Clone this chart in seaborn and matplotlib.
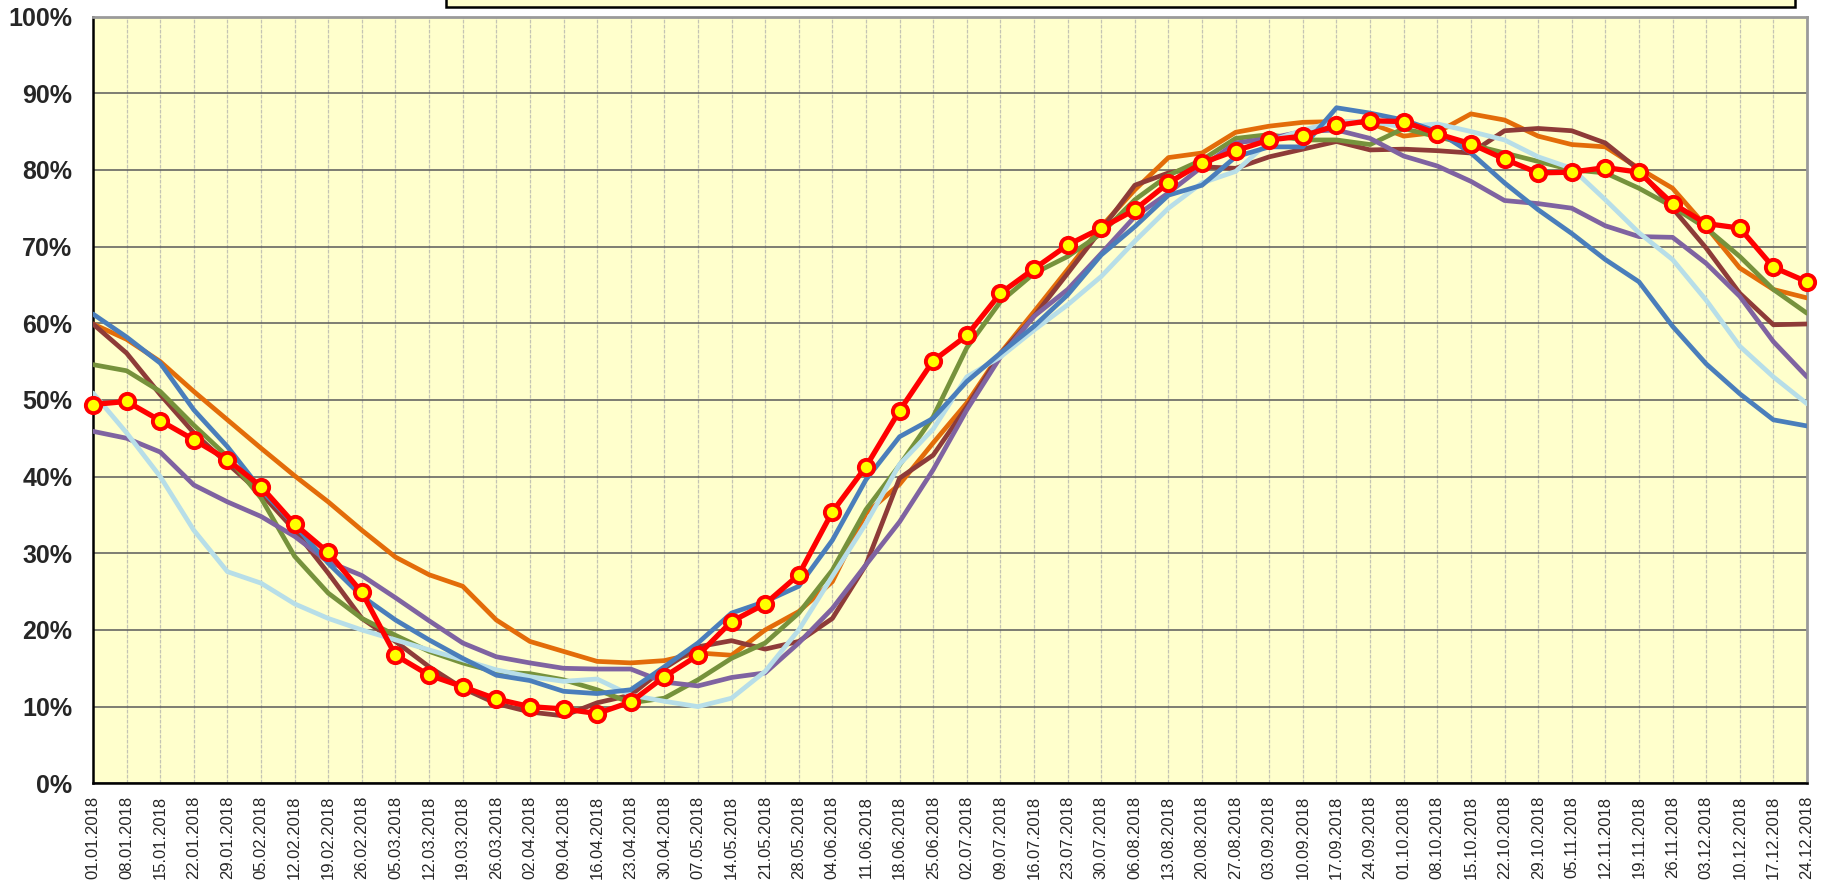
import numpy as np
import pandas as pd
import matplotlib
matplotlib.use("Agg")
import matplotlib.pyplot as plt
import matplotlib.ticker as mticker
from matplotlib.patches import Rectangle
import seaborn as sns

# weekly dates (Mondays of 2018)
dates = pd.date_range("2018-01-01", periods=52, freq="7D").strftime("%d.%m.%Y").tolist()

# values in %
s_blue = [61.2, 58.2, 54.8, 48.7, 43.9, 38.3, 33.7, 28.7, 24.4, 21.3,
          18.7, 16.3, 14.1, 13.4, 12.0, 11.7, 12.2, 15.2, 18.3, 22.2,
          23.7, 25.7, 31.7, 39.6, 45.2, 47.6, 52.4, 56.1, 59.6, 63.7,
          68.9, 72.6, 76.7, 78.0, 81.7, 83.0, 83.0, 88.1, 87.4, 86.5,
          85.0, 82.2, 78.3, 74.8, 71.7, 68.3, 65.4, 59.6, 54.7, 50.8,
          47.4, 46.6]
s_orange = [59.9, 57.9, 55.0, 51.1, 47.4, 43.7, 40.1, 36.7, 33.0, 29.5,
            27.2, 25.7, 21.3, 18.5, 17.2, 15.9, 15.7, 16.0, 17.0, 16.7,
            20.0, 22.4, 26.3, 35.2, 39.0, 44.4, 49.6, 56.1, 61.5, 67.0,
            72.6, 77.4, 81.6, 82.2, 84.9, 85.7, 86.2, 86.3, 86.1, 84.4,
            84.9, 87.3, 86.5, 84.4, 83.3, 83.0, 80.2, 77.6, 72.6, 67.2,
            64.4, 63.3]
s_brown = [59.9, 56.1, 50.7, 45.7, 41.7, 37.8, 33.0, 27.4, 21.5, 18.5,
           15.2, 12.4, 10.4, 9.3, 8.8, 10.5, 11.5, 15.0, 17.8, 18.6,
           17.5, 18.5, 21.5, 28.5, 39.8, 42.8, 49.1, 56.0, 60.9, 66.5,
           72.2, 78.0, 79.6, 80.4, 80.2, 81.7, 82.7, 83.7, 82.6, 82.7,
           82.5, 82.2, 85.1, 85.4, 85.1, 83.5, 80.0, 75.0, 69.8, 63.9,
           59.8, 59.9]
s_green = [54.6, 53.8, 51.1, 46.7, 42.6, 37.2, 29.6, 24.8, 21.5, 19.3,
           17.2, 15.7, 14.5, 14.3, 13.5, 12.2, 10.5, 11.1, 13.5, 16.3,
           18.3, 22.2, 27.8, 35.7, 41.5, 47.8, 56.8, 62.8, 66.5, 68.7,
           71.7, 76.1, 79.3, 81.3, 84.1, 84.6, 83.9, 83.9, 83.3, 85.4,
           84.3, 83.3, 82.2, 81.1, 80.0, 79.6, 77.6, 75.2, 72.4, 68.7,
           64.4, 61.3]
s_lightblue = [50.9, 45.7, 40.0, 33.0, 27.6, 26.1, 23.4, 21.5, 20.0, 18.7,
               17.4, 16.1, 14.8, 13.9, 13.3, 13.6, 11.5, 10.7, 10.0, 11.1,
               14.6, 20.0, 27.0, 33.9, 41.6, 46.2, 53.0, 55.6, 59.1, 62.4,
               66.1, 70.7, 75.0, 78.3, 79.8, 83.7, 85.2, 86.3, 86.3, 85.6,
               86.0, 85.0, 83.9, 81.7, 80.2, 76.1, 71.8, 68.3, 63.0, 57.0,
               53.0, 49.5]
s_purple = [45.9, 45.0, 43.2, 38.9, 36.7, 34.8, 32.2, 28.9, 27.1, 24.2,
            21.2, 18.3, 16.5, 15.7, 15.0, 14.9, 14.9, 13.2, 12.7, 13.8,
            14.4, 18.3, 22.8, 28.5, 34.1, 40.9, 48.7, 55.6, 60.9, 64.4,
            69.1, 73.9, 77.0, 80.4, 83.5, 84.1, 85.0, 85.2, 84.1, 81.8,
            80.5, 78.5, 76.0, 75.6, 75.0, 72.7, 71.3, 71.2, 67.8, 63.5,
            57.6, 53.0]
s_red = [49.4, 49.8, 47.3, 44.8, 42.2, 38.7, 33.8, 30.1, 24.9, 16.7,
         14.1, 12.6, 11.0, 10.0, 9.7, 9.1, 10.6, 13.9, 16.7, 21.1,
         23.4, 27.2, 35.4, 41.3, 48.6, 55.1, 58.4, 63.9, 67.1, 70.2,
         72.4, 74.8, 78.3, 80.9, 82.5, 83.9, 84.4, 85.8, 86.4, 86.3,
         84.7, 83.4, 81.4, 79.6, 79.7, 80.3, 79.7, 75.6, 73.0, 72.4,
         67.3, 65.4]

series = [
    (s_orange, "#E36C09"),
    (s_brown, "#8E3B38"),
    (s_green, "#76923C"),
    (s_purple, "#7F63A1"),
    (s_lightblue, "#B7DEE8"),
    (s_blue, "#4A7EBB"),
]

sns.set_style("white")
plt.rcParams["font.family"] = ["Liberation Sans", "DejaVu Sans"]

fig = plt.figure(figsize=(18.27, 8.84), dpi=100)
ax = fig.add_axes([93 / 1827, (884 - 783.3) / 884, (1807 - 93) / 1827, (783.3 - 16.5) / 884])
ax.set_facecolor("#FFFFCC")

x = np.arange(len(dates))
for vals, col in series:
    sns.lineplot(x=x, y=vals, color=col, linewidth=3.4, ax=ax, zorder=3)

sns.lineplot(x=x, y=s_red, color="#FF0000", linewidth=3.8, marker="o", markersize=11,
             markerfacecolor="#FFFF00", markeredgecolor="#FF0000", markeredgewidth=2.8,
             ax=ax, zorder=5, clip_on=False)

ax.set_xlim(0, len(dates) - 1)
ax.set_ylim(0, 100)
ax.set_xticks(x)
ax.set_xticklabels(dates, rotation=90, fontsize=12)
ax.set_yticks(np.arange(0, 101, 10))
ax.yaxis.set_major_formatter(mticker.FuncFormatter(lambda v, p: f"{int(v)}%"))
for lab in ax.get_yticklabels():
    lab.set_fontweight("bold")
    lab.set_fontsize(18)

ax.tick_params(axis="x", direction="out", length=7, width=1, color="#404040", pad=2)
ax.tick_params(axis="y", direction="out", length=7, width=1, color="#404040", pad=8)

ax.grid(axis="y", color="#5A5A5A", linewidth=1.1, zorder=1)
ax.grid(axis="x", color="#C4C4B4", linewidth=0.9, linestyle=(0, (3, 1)), zorder=1)
ax.set_axisbelow(True)

for side in ["left", "bottom"]:
    ax.spines[side].set_color("black")
    ax.spines[side].set_linewidth(1.8)
for side in ["top", "right"]:
    ax.spines[side].set_color("#9A9A9A")
    ax.spines[side].set_linewidth(2.0)

ax.set_xlabel("")
ax.set_ylabel("")
if ax.get_legend():
    ax.get_legend().remove()

# legend box cut off at the top edge
fig.patches.append(Rectangle((446 / 1827, 1 - 7 / 884), (1795 - 446) / 1827, 0.05,
                             transform=fig.transFigure, facecolor="#FFFFCC",
                             edgecolor="black", linewidth=1.8))

fig.savefig("out.png", dpi=100)
